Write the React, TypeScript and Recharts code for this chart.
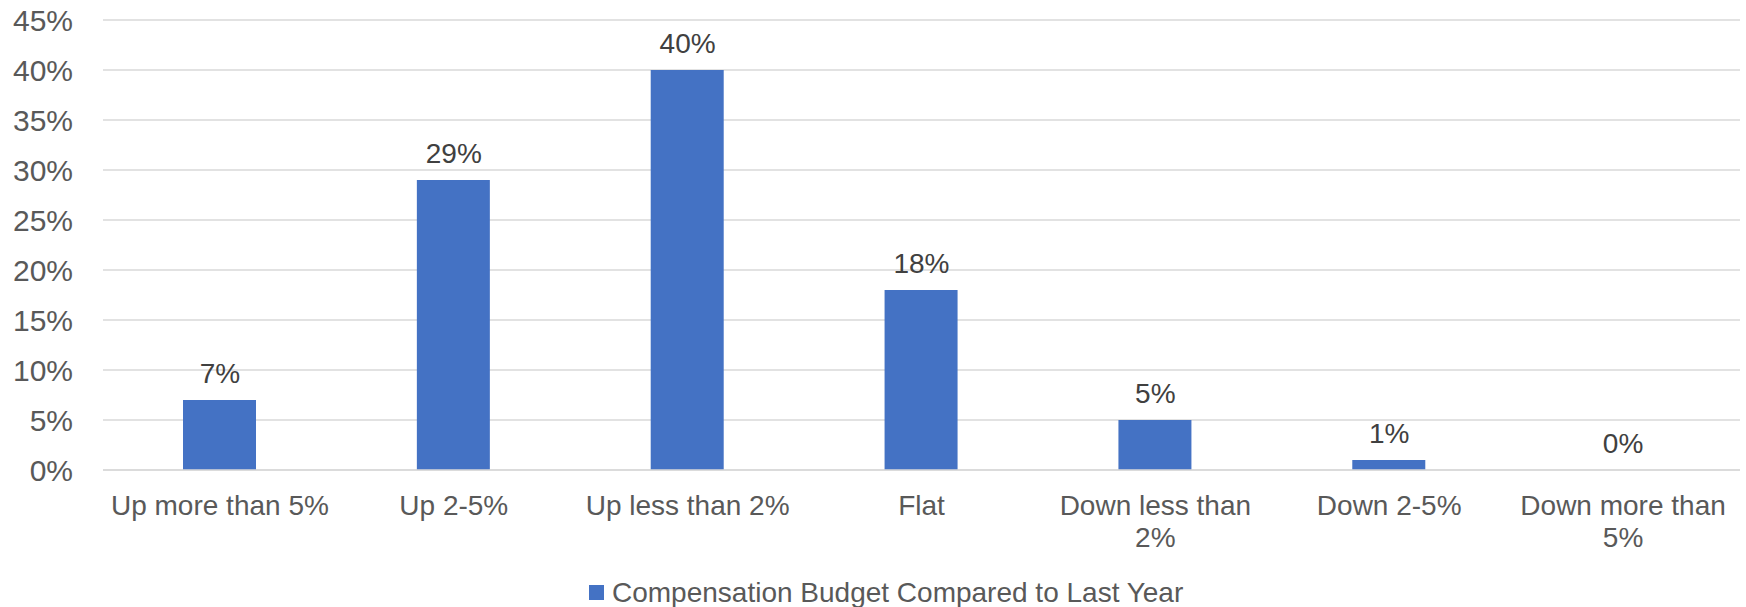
import { ComposedChart, Bar, Line, XAxis, YAxis, CartesianGrid, Legend, LabelList } from "recharts";

const categories = [
  "Up more than 5%",
  "Up 2-5%",
  "Up less than 2%",
  "Flat",
  "Down less than 2%",
  "Down 2-5%",
  "Down more than 5%",
];
const budgetValues = [7, 29, 40, 18, 5, 1, 0];
const yTicks = [0, 5, 10, 15, 20, 25, 30, 35, 40, 45];
const seriesName = "Compensation Budget Compared to Last Year";

const FONT = "'Liberation Sans', Arial, sans-serif";
const BLUE = "#4472C4";
const GREY = "#595959";

const data = categories.map((c, i) => ({ category: c, value: budgetValues[i] }));

function splitLabel(label: string) {
  if (label.length <= 16) return [label];
  const idx = label.lastIndexOf(" ");
  return [label.slice(0, idx), label.slice(idx + 1)];
}

function CategoryTick({ x, y, payload }: any) {
  const lines = splitLabel(String(payload.value));
  return (
    <text x={x} y={y} textAnchor="middle" fill={GREY} fontSize={28} fontFamily={FONT}>
      {lines.map((l, i) => (
        <tspan key={i} x={x} dy={i === 0 ? 45 : 32}>
          {l}
        </tspan>
      ))}
    </text>
  );
}

function ChartLegend() {
  return (
    <svg width={1746} height={40} style={{ display: "block" }}>
      <rect x={589} y={18} width={15} height={15} fill={BLUE} />
      <text x={612} y={35} fontSize={28} fontFamily={FONT} fill={GREY}>
        {seriesName}
      </text>
    </svg>
  );
}

export default function App() {
  return (
    <div style={{ position: "absolute", left: 0, top: 0, background: "#fff" }}>
      <ComposedChart
        width={1746}
        height={607}
        data={data}
        margin={{ top: 20, right: 6, left: 0, bottom: 0 }}
      >
        <CartesianGrid vertical={false} stroke="#D9D9D9" strokeWidth={1.5} />
        <XAxis
          dataKey="category"
          interval={0}
          height={97}
          tickLine={false}
          tickSize={0}
          tickMargin={0}
          axisLine={{ stroke: "#D9D9D9", strokeWidth: 1.5 }}
          tick={<CategoryTick />}
        />
        <YAxis
          domain={[0, 45]}
          ticks={yTicks}
          width={103}
          axisLine={false}
          tickLine={false}
          tickSize={0}
          tickMargin={30}
          tickFormatter={(v) => `${v}%`}
          tick={{ fontSize: 30, fill: GREY, fontFamily: FONT }}
        />
        <Legend verticalAlign="bottom" content={<ChartLegend />} />
        <Bar dataKey="value" name={seriesName} fill={BLUE} barSize={73} isAnimationActive={false} />
        {/* invisible line carries the data labels so the 0% one is drawn too */}
        <Line
          dataKey="value"
          stroke="none"
          dot={false}
          activeDot={false}
          legendType="none"
          isAnimationActive={false}
        >
          <LabelList
            dataKey="value"
            position="top"
            offset={17}
            formatter={(v: any) => `${v}%`}
            style={{ fontSize: 28, fill: "#404040", fontFamily: FONT }}
          />
        </Line>
      </ComposedChart>
    </div>
  );
}
